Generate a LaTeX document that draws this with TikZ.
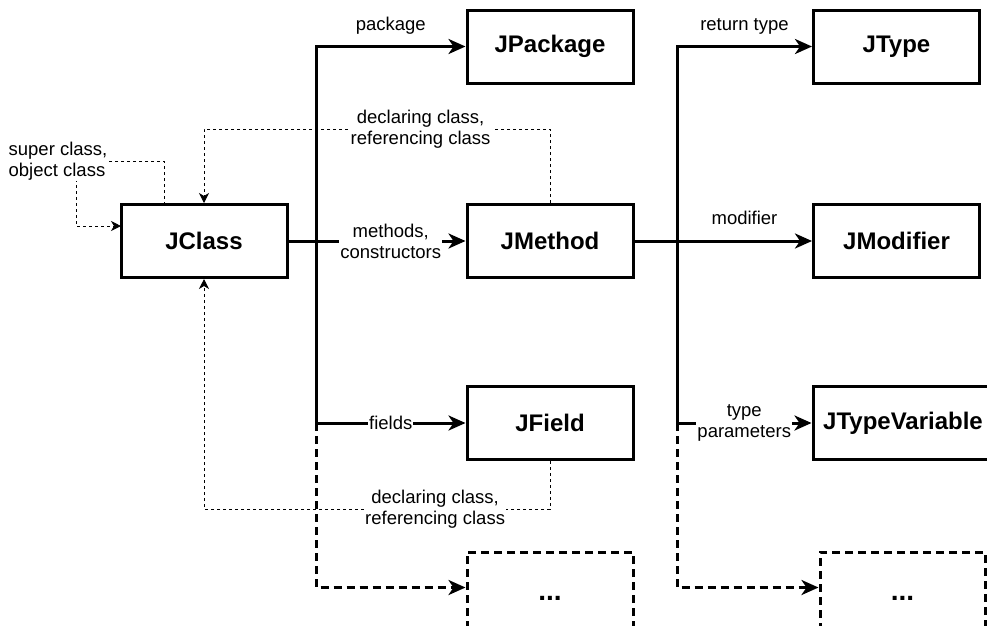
\documentclass[tikz,border=0pt]{standalone}
\usepackage{fontspec}
\setmainfont{Liberation Sans}
\usetikzlibrary{arrows.meta,calc}
\begin{document}
\begin{tikzpicture}[x=1pt,y=-1pt,
  cls/.style={draw, line width=3pt, fill=white, minimum width=166pt,
    minimum height=73pt, inner sep=0pt,
    font=\fontsize{24}{28}\selectfont\bfseries},
  more/.style={cls, dash pattern=on 8pt off 5pt, minimum height=80pt,
    text height=17pt, text depth=0pt, font=\fontsize{28}{32}\selectfont\bfseries},
  link/.style={line width=3pt},
  linkarr/.style={link, -{Stealth[length=17pt,width=15pt,inset=5pt]}},
  morearr/.style={linkarr, dash pattern=on 8pt off 5pt},
  thinlink/.style={line width=1pt, dash pattern=on 3pt off 3pt},
  thinarr/.style={thinlink, -{Stealth[length=10pt,width=10pt,inset=3pt]}},
  lbl/.style={font=\fontsize{18.5}{21}\selectfont, align=center, fill=white, inner sep=1pt},
  toplbl/.style={font=\fontsize{18.5}{21}\selectfont, inner sep=1pt,
    text height=13pt, text depth=4pt, above=10pt}
]
\useasboundingbox (0,0) rectangle (987,625);

% classes
\node[cls] (JClass)   at (204,241)   {JClass};
\node[cls] (JPackage) at (550,46.5)  {JPackage};
\node[cls] (JMethod)  at (550,241)   {JMethod};
\node[cls] (JField)   at (550,423)   {JField};
\node[more] (Dots1)   at (550,592)   {...};
\node[cls] (JType)    at (896.5,46.5) {JType};
\node[cls] (JModifier) at (896.5,241) {JModifier};
\node[cls, minimum width=180pt] (JTypeVariable) at (903,423) {JTypeVariable};
\node[more, minimum width=165pt] (Dots2) at (902.5,592) {...};

% junction points of the two trunks
\coordinate (j1)  at (316,241);
\coordinate (j1d) at (316,423);
\coordinate (j2)  at (677,241);
\coordinate (j2d) at (677,423);
\coordinate (d1in) at ($(Dots1.north west)+(0,37)$);
\coordinate (d2in) at ($(Dots2.north west)+(0,37)$);

% JClass members
\draw[link] (JClass.east) -- (j1);
\draw[linkarr] (j1) -- node[lbl]{methods,\\constructors} (JMethod);
\draw[linkarr] (j1) |- node[toplbl, pos=0.75]{package} (JPackage);
\draw[linkarr] (j1) |- node[lbl, pos=0.75]{fields} (JField);
\draw[morearr] (j1d) |- (d1in);

% JMethod members
\draw[link] (JMethod.east) -- (j2);
\draw[linkarr] (j2) -- node[toplbl]{modifier} (JModifier);
\draw[linkarr] (j2) |- node[toplbl, pos=0.75]{return type} (JType);
\draw[linkarr] (j2) |- node[lbl, pos=0.75]{type\\parameters} (JTypeVariable);
\draw[morearr] (j2d) |- (d2in);

% back references
\coordinate (sc1) at (164,205);
\coordinate (sc2) at (121,226);
\draw[thinarr] (sc1) |- (76,161) |- (sc2);
\node[lbl, align=left] (superlbl) at (58,161) {super class,\\object class};

\draw[thinarr] (JMethod.north) |- node[lbl, pos=0.687]{declaring class,\\referencing class}
  ($(JClass.north)+(0,-74)$) -- (JClass.north);
\draw[thinarr] (JField.south) |- node[lbl, pos=0.666]{declaring class,\\referencing class}
  ($(JClass.south)+(0,230)$) -- (JClass.south);
\end{tikzpicture}
\end{document}
